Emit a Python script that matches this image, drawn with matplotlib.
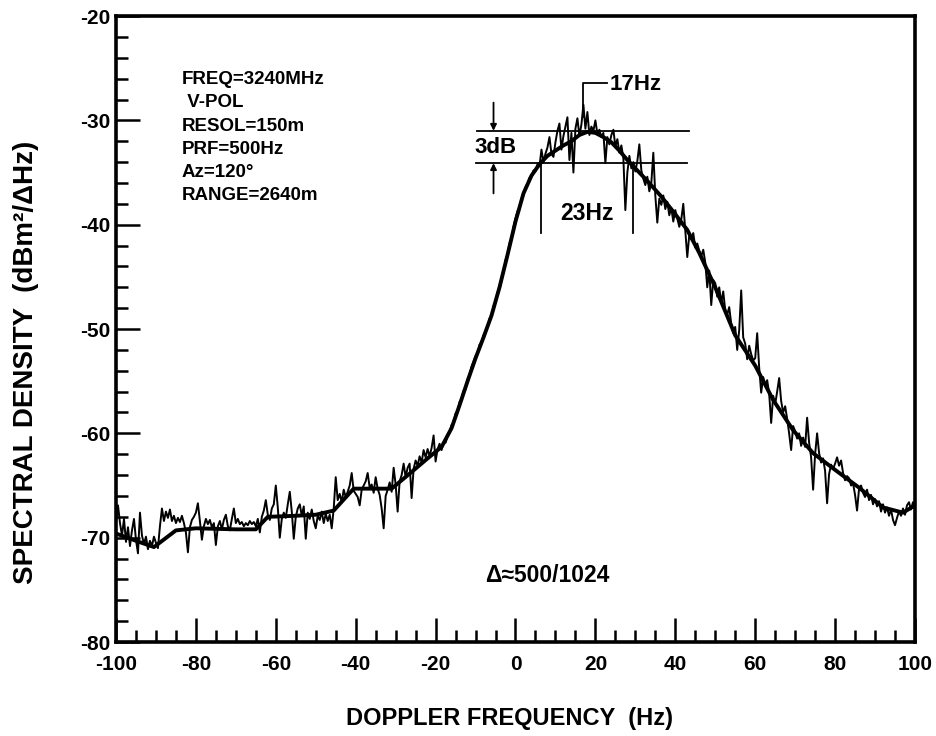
import numpy as np
import matplotlib
matplotlib.use("Agg")
import matplotlib.pyplot as plt
from matplotlib.ticker import MultipleLocator

plt.rcParams['font.family'] = ['Liberation Sans', 'DejaVu Sans']
plt.rcParams['font.weight'] = 'bold'
plt.rcParams['axes.unicode_minus'] = False

# measured doppler spectrum, 0.5 Hz bins from -100 to 100 Hz (dBm^2/dHz)
freq = np.arange(-100, 100.5, 0.5)
spectrum = [
    -68.5, -66.9, -68.6, -69.8, -68.2, -70.4, -69.0, -70.8, -69.3, -68.2,
    -70.2, -71.5, -67.6, -69.8, -70.6, -69.9, -71.1, -70.3, -70.8, -69.9,
    -70.5, -71.0, -68.9, -67.2, -68.4, -67.5, -68.1, -67.3, -68.4, -67.9,
    -68.6, -68.1, -68.5, -67.9, -68.6, -69.5, -71.4, -69.0, -68.3, -68.0,
    -67.6, -66.7, -68.4, -70.2, -68.9, -68.2, -68.7, -68.3, -69.0, -68.6,
    -70.7, -68.9, -68.4, -69.2, -68.3, -67.8, -68.9, -69.3, -68.2, -67.2,
    -68.6, -68.2, -68.7, -68.5, -68.9, -68.6, -68.8, -68.4, -68.7, -68.5,
    -68.9, -68.2, -69.5, -68.0, -67.4, -66.4, -67.8, -68.3, -67.2, -66.8,
    -65.0, -67.1, -70.0, -68.2, -67.6, -68.1, -66.8, -65.6, -67.5, -70.1,
    -68.0, -67.2, -66.8, -67.9, -67.0, -70.1, -67.6, -68.2, -67.3, -68.4,
    -69.1, -67.9, -68.3, -67.5, -68.6, -67.7, -68.4, -67.8, -69.1, -67.2,
    -64.2, -66.4, -65.8, -66.6, -65.4, -66.1, -65.6, -65.0, -63.8, -65.5,
    -65.8, -66.1, -66.9, -65.4, -65.0, -64.6, -63.8, -65.2, -64.9, -65.7,
    -64.2, -65.3, -65.9, -67.2, -69.1, -66.0, -65.4, -64.7, -65.6, -63.3,
    -64.9, -67.5, -64.6, -64.0, -62.9, -64.2, -63.3, -62.9, -66.2, -63.4,
    -62.6, -63.1, -62.2, -62.8, -61.6, -62.3, -61.5, -62.2, -61.4, -60.2,
    -62.7, -61.5, -61.0, -61.6, -60.8, -60.9, -60.2, -59.8, -59.2, -59.0,
    -58.1, -57.9, -57.0, -56.7, -55.9, -55.8, -54.8, -54.4, -53.6, -53.1,
    -52.6, -52.4, -51.5, -51.3, -50.6, -50.2, -49.8, -49.0, -48.8, -47.8,
    -47.4, -46.5, -46.2, -45.2, -44.6, -43.4, -42.9, -41.8, -41.4, -40.2,
    -39.4, -38.7, -38.5, -37.5, -37.2, -36.4, -36.1, -35.5, -35.4, -34.8,
    -34.9, -34.2, -34.4, -32.8, -34.0, -33.2, -32.6, -31.6, -33.2, -33.5,
    -32.1, -31.0, -30.3, -32.8, -31.5, -30.6, -29.7, -33.8, -31.2, -35.0,
    -30.8, -29.8, -31.5, -30.4, -28.5, -30.8, -29.2, -31.4, -30.6, -31.0,
    -30.0, -31.3, -30.9, -31.6, -31.2, -34.1, -31.6, -32.3, -31.4, -30.9,
    -32.5, -31.8, -33.1, -32.4, -33.6, -38.6, -35.0, -33.4, -34.6, -34.0,
    -34.9, -33.9, -32.3, -34.8, -35.6, -36.2, -35.4, -36.8, -36.0, -33.1,
    -37.2, -39.8, -37.5, -38.1, -37.2, -38.5, -37.8, -39.1, -38.4, -39.7,
    -38.6, -39.4, -40.2, -39.5, -38.0, -40.6, -43.1, -41.0, -41.4, -40.8,
    -42.2, -41.8, -42.5, -43.0, -42.4, -43.6, -46.0, -44.4, -47.7, -45.3,
    -45.6, -46.9, -46.0, -47.5, -46.4, -48.2, -48.6, -47.9, -49.5, -50.4,
    -49.8, -52.0, -50.1, -46.3, -50.8, -51.4, -52.9, -51.6, -52.4, -53.0,
    -52.8, -50.4, -53.7, -56.1, -54.6, -55.4, -54.9, -56.2, -59.0, -56.4,
    -57.2, -56.0, -54.7, -56.9, -58.0, -57.4, -58.6, -60.0, -61.6, -59.3,
    -59.8, -60.5, -60.0, -61.2, -60.4, -61.3, -58.5, -60.9, -62.3, -65.4,
    -62.0, -60.0, -61.9, -62.8, -62.4, -63.6, -66.7, -63.9, -63.0, -63.4,
    -62.9, -62.3, -63.1, -62.6, -63.8, -64.5, -64.1, -64.3, -65.0, -64.8,
    -65.9, -67.4, -65.3, -65.0, -65.7, -66.1, -65.4, -66.4, -65.9, -66.8,
    -66.3, -67.0, -66.5, -67.5, -66.8, -67.6, -67.1, -67.9, -67.3, -68.3,
    -68.8, -68.1, -67.5, -67.9, -67.2, -67.8, -66.9, -66.6, -67.3, -66.6,
    -67.0,
]

# smoothed spectrum drawn over the raw one
smooth_freq = [-100, -95, -90.5, -85, -80, -70, -65, -62, -55, -50,
               -45.5, -40.5, -35, -31, -26, -22, -18.5, -16, -14, -12,
               -10, -8, -6, -4, -2, 0, 2, 4, 6, 8,
               10, 12, 14, 16, 18, 20, 22, 24, 26, 28,
               30, 33, 36.5, 40, 43, 46, 50, 55, 60, 64.5,
               69.5, 74.5, 80, 86, 92, 97, 100]
smooth_db = [-69.6, -70.3, -70.9, -69.3, -69.1, -69.2, -69.2, -68.0, -67.9, -67.8,
             -67.4, -65.3, -65.3, -65.3, -63.7, -62.4, -61.3, -59.5, -57.3, -55.0,
             -52.8, -50.8, -48.7, -46.0, -42.9, -39.7, -37.0, -35.3, -34.2, -33.4,
             -32.9, -32.4, -32.0, -31.4, -31.1, -31.2, -31.6, -32.1, -32.9, -33.8,
             -34.6, -35.8, -37.3, -39.0, -40.5, -42.7, -46.0, -50.6, -53.5, -56.8,
             -59.7, -61.9, -63.5, -65.2, -67.1, -67.6, -66.9]

# 3 dB bandwidth markers
peak_db = -31.0
half_db = -34.1
peak_freq = 17
bw_left, bw_right = 6.5, 29.5   # 23 Hz apart

params = "FREQ=3240MHz\n V-POL\nRESOL=150m\nPRF=500Hz\nAz=120°\nRANGE=2640m"

fig = plt.figure(figsize=(9.37, 7.36), dpi=100)
ax = fig.add_axes([0.1238, 0.1277, 0.8527, 0.8505])

ax.plot(freq, spectrum, color='black', lw=1.4)
ax.plot(smooth_freq, smooth_db, color='black', lw=2.8)

ax.set_xlim(-100, 100)
ax.set_ylim(-80, -20)
ax.xaxis.set_major_locator(MultipleLocator(20))
ax.xaxis.set_minor_locator(MultipleLocator(5))
ax.yaxis.set_major_locator(MultipleLocator(10))
ax.yaxis.set_minor_locator(MultipleLocator(2))
ax.tick_params(which='both', direction='in', width=1.8, labelsize=15)
ax.tick_params(which='major', length=17)
ax.tick_params(which='minor', length=8.5)
ax.tick_params(axis='x', pad=9)
ax.tick_params(axis='y', pad=4)
for s in ax.spines.values():
    s.set_linewidth(2.6)
for lab in ax.get_xticklabels() + ax.get_yticklabels():
    lab.set_fontweight('bold')

# 3 dB lines and arrows
ax.plot([-9.75, 43.5], [peak_db, peak_db], color='black', lw=1.3)
ax.plot([-10, 43.0], [half_db, half_db], color='black', lw=1.3)
ax.annotate('', xy=(-5.5, peak_db), xytext=(-5.5, -28.3),
            arrowprops=dict(arrowstyle='-|>', color='black', lw=1.3, mutation_scale=9,
                            shrinkA=0, shrinkB=0))
ax.annotate('', xy=(-5.5, half_db), xytext=(-5.5, -37.0),
            arrowprops=dict(arrowstyle='-|>', color='black', lw=1.3, mutation_scale=9,
                            shrinkA=0, shrinkB=0))
ax.text(-5.0, -32.6, '3dB', fontsize=16, fontweight='bold', ha='center', va='center')

# bandwidth verticals
ax.plot([bw_left, bw_left], [half_db, -40.8], color='black', lw=1.3)
ax.plot([bw_right, bw_right], [half_db, -40.8], color='black', lw=1.3)
ax.text((bw_left + bw_right) / 2, -38.9, '23Hz', fontsize=16.5, fontweight='bold',
        ha='center', va='center')

# peak bracket
ax.plot([peak_freq, peak_freq, 23.0], [-29.7, -26.4, -26.4], color='black', lw=1.3)
ax.text(23.6, -26.6, '17Hz', fontsize=16, fontweight='bold', ha='left', va='center')

ax.text(-83.6, -25.3, params, fontsize=13.5, fontweight='bold', ha='left', va='top',
        linespacing=1.47)
ax.text(-7.5, -73.6, 'Δ≈500/1024', fontsize=16.5, fontweight='bold', ha='left', va='center')

fig.text(510 / 937, 1 - 718 / 736, 'DOPPLER FREQUENCY  (Hz)', fontsize=17,
         fontweight='bold', ha='center', va='center')
fig.text(26 / 937, 1 - 362 / 736, 'SPECTRAL DENSITY  (dBm²/ΔHz)', fontsize=20,
         fontweight='bold', ha='center', va='center', rotation=90)

fig.savefig('out.png', dpi=100)
